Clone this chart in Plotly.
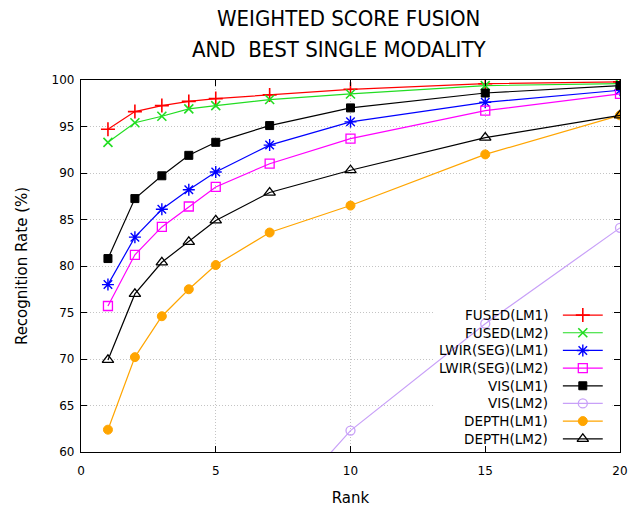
import plotly.graph_objects as go

# Cumulative match characteristic: recognition rate (%) per rank
ranks = [1, 2, 3, 4, 5, 7, 10, 15, 20]

fused_lm1 = [94.7, 96.6, 97.25, 97.7, 98.0, 98.4, 99.0, 99.6, 99.8]
fused_lm2 = [93.3, 95.4, 96.1, 96.9, 97.25, 97.9, 98.5, 99.4, 99.6]
lwir_seg_lm1 = [78.0, 83.1, 86.1, 88.2, 90.1, 93.0, 95.5, 97.6, 98.9]
lwir_seg_lm2 = [75.7, 81.2, 84.2, 86.4, 88.5, 91.0, 93.7, 96.7, 98.5]
vis_lm1 = [80.8, 87.25, 89.7, 91.9, 93.3, 95.1, 97.0, 98.6, 99.4]
vis_lm2 = [None, None, None, None, None, 52.6, 62.3, 73.8, 84.1]
depth_lm1 = [62.4, 70.2, 74.6, 77.5, 80.1, 83.6, 86.5, 92.0, 96.2]
depth_lm2 = [69.9, 77.0, 80.4, 82.6, 84.9, 87.9, 90.3, 93.8, 96.2]

series_names = ["FUSED(LM1)", "FUSED(LM2)", "LWIR(SEG)(LM1)", "LWIR(SEG)(LM2)",
                "VIS(LM1)", "VIS(LM2)", "DEPTH(LM1)", "DEPTH(LM2)"]
series_values = [fused_lm1, fused_lm2, lwir_seg_lm1, lwir_seg_lm2,
                 vis_lm1, vis_lm2, depth_lm1, depth_lm2]

x_ticks = [0, 5, 10, 15, 20]
y_ticks = [60, 65, 70, 75, 80, 85, 90, 95, 100]

title_lines = ["WEIGHTED SCORE FUSION", "AND  BEST SINGLE MODALITY"]

styles = [
    dict(color="#ff0000", symbol="cross-thin-open", size=10, lw=1.6),
    dict(color="#22dd22", symbol="x-thin-open", size=9, lw=1.6),
    dict(color="#0000ff", symbol="asterisk-open", size=10, lw=1.4),
    dict(color="#ff00ff", symbol="square-open", size=9, lw=1.3),
    dict(color="#000000", symbol="square", size=8, lw=1),
    dict(color="#c8a0f8", symbol="circle-open", size=9, lw=1.3),
    dict(color="#ffa500", symbol="circle", size=9, lw=1),
    dict(color="#000000", symbol="triangle-up-open", size=10, lw=1.3),
]

fig = go.Figure()

for name, vals, st in zip(series_names, series_values, styles):
    fig.add_trace(go.Scatter(
        x=ranks, y=vals, name=name, mode="lines+markers",
        line=dict(color=st["color"], width=1.2),
        marker=dict(symbol=st["symbol"], size=st["size"], color=st["color"],
                    line=dict(color=st["color"], width=st["lw"])),
        showlegend=False, connectgaps=False,
    ))

# Opaque key background over the grid, traces still draw over it
fig.add_shape(type="rect", xref="x", yref="y", x0=13.1, x1=19.72, y0=60.05, y1=76.3,
              fillcolor="white", line=dict(width=0), layer="between")

# Key: right-aligned labels with the line sample to their right
key_text_x = 0.870
key_line_x = [0.894, 0.968]
key_mark_x = 0.931
key_top = 0.368
key_step = 0.0475
key_font = dict(family="DejaVu Sans", size=13.5, color="#000000")
for i, (name, st) in enumerate(zip(series_names, styles)):
    ky = key_top - i * key_step
    fig.add_trace(go.Scatter(
        x=key_line_x, y=[ky, ky], xaxis="x2", yaxis="y2", mode="lines",
        line=dict(color=st["color"], width=1.2), showlegend=False, hoverinfo="skip",
    ))
    fig.add_trace(go.Scatter(
        x=[key_mark_x], y=[ky], xaxis="x2", yaxis="y2", mode="markers",
        marker=dict(symbol=st["symbol"], size=st["size"], color=st["color"],
                    line=dict(color=st["color"], width=st["lw"])),
        showlegend=False, hoverinfo="skip",
    ))
    fig.add_annotation(
        x=key_text_x, y=ky, xref="paper", yref="paper", text=name, showarrow=False,
        xanchor="right", yanchor="middle", font=key_font,
    )

# Two-line heading
title_font = dict(family="Liberation Sans Narrow, DejaVu Sans Condensed", size=22, color="#000000")
for text, tx, ty in zip(title_lines, [0.497, 0.4805], [1.164, 1.081]):
    fig.add_annotation(x=tx, y=ty, xref="paper", yref="paper", text=text, showarrow=False,
                       xanchor="center", yanchor="middle", font=title_font)

tick_font = dict(family="DejaVu Sans", size=12, color="#000000")
label_font = dict(family="DejaVu Sans", size=15, color="#000000")

fig.update_layout(
    width=628, height=510,
    margin=dict(l=81, r=8, t=80, b=58, autoexpand=False),
    paper_bgcolor="white", plot_bgcolor="white",
    xaxis=dict(
        range=[0, 20], tickvals=x_ticks, ticks="inside", ticklen=6, tickcolor="#000000",
        showline=True, linecolor="#000000", linewidth=1.3, mirror="ticks",
        showgrid=True, gridcolor="#c4c4c4", griddash="1px,2px", gridwidth=1,
        zeroline=False, tickfont=tick_font, ticklabelstandoff=7, automargin=False,
        title=dict(text="Rank", font=label_font, standoff=15),
    ),
    yaxis=dict(
        range=[60, 100], tickvals=y_ticks, ticks="inside", ticklen=6, tickcolor="#000000",
        showline=True, linecolor="#000000", linewidth=1.3, mirror="ticks",
        showgrid=True, gridcolor="#c4c4c4", griddash="1px,2px", gridwidth=1,
        zeroline=False, tickfont=tick_font, ticklabelstandoff=3, automargin=False,
        title=dict(text="Recognition Rate (%)", font=label_font, standoff=20),
    ),
    xaxis2=dict(range=[0, 1], overlaying="x", visible=False, fixedrange=True),
    yaxis2=dict(range=[0, 1], overlaying="y", visible=False, fixedrange=True),
)

fig.write_html("out.html")
